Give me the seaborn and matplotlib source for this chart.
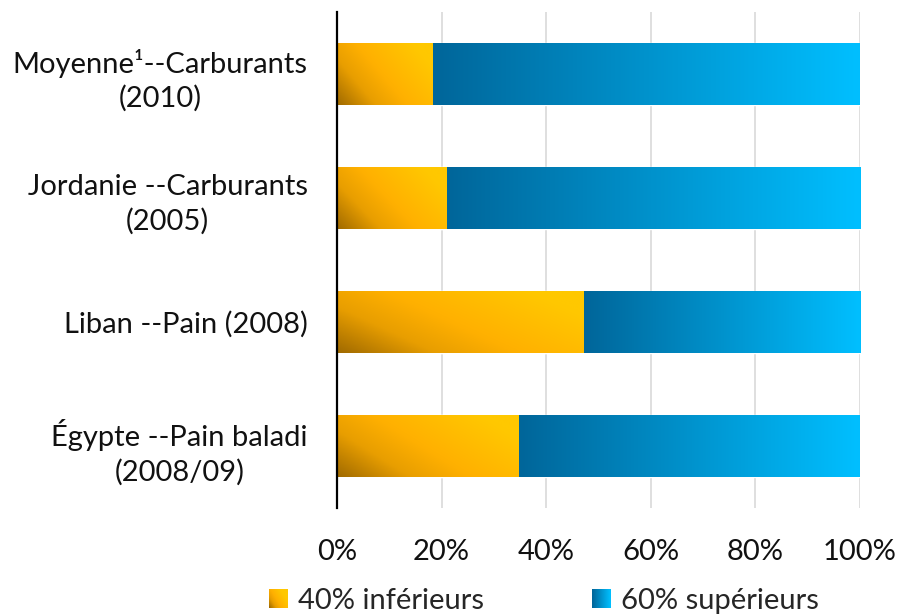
import numpy as np
import pandas as pd
import matplotlib
matplotlib.use("Agg")
import matplotlib.pyplot as plt
import seaborn as sns
from matplotlib.colors import LinearSegmentedColormap
from matplotlib.legend_handler import HandlerBase
from matplotlib.image import BboxImage
from matplotlib.transforms import Bbox, TransformedBbox
from matplotlib.patches import Patch

# data
categories = [
    "Moyenne\u00b9--Carburants\n(2010)",
    "Jordanie --Carburants\n(2005)",
    "Liban --Pain (2008)",
    "\u00c9gypte --Pain baladi\n(2008/09)",
]
bottom40 = [18.4, 21.0, 47.2, 34.8]
top60 = [100 - v for v in bottom40]
series_names = ["40% inf\u00e9rieurs", "60% sup\u00e9rieurs"]
xticks = [0, 20, 40, 60, 80, 100]

df = pd.DataFrame({"cat": categories, "low": bottom40, "high": top60})
df["total"] = df["low"] + df["high"]

sns.set_theme(style="white")
plt.rcParams["font.family"] = ["Lato", "DejaVu Sans"]
FS = 21

orange_cmap = LinearSegmentedColormap.from_list(
    "orng", [(0, "#A06A00"), (0.3, "#E89E00"), (0.55, "#FFB000"), (1, "#FFC800")])
blue_cmap = LinearSegmentedColormap.from_list(
    "blu", [(0, "#00669A"), (1, "#00BFFF")])

fig = plt.figure(figsize=(8.99, 6.14), dpi=100)
ax = fig.add_axes([337 / 899, (614 - 508) / 614, 523 / 899, 496 / 614])

sns.barplot(data=df, x="total", y="cat", color="#0090D0", width=0.5, ax=ax)
sns.barplot(data=df, x="low", y="cat", color="#FFB000", width=0.5, ax=ax)

n = len(categories)
high_patches = ax.patches[:n]
low_patches = ax.patches[n:]


def orange_grad():
    u = np.linspace(0, 1, 200)[None, :]
    v = np.linspace(1, 0, 60)[:, None]  # top row first (bright), bottom dark
    return np.clip(u * 0.75 + v * 0.4, 0, 1)


for p in low_patches:
    x0, y0 = p.get_x(), p.get_y()
    w, h = p.get_width(), p.get_height()
    im = ax.imshow(orange_grad(), cmap=orange_cmap, vmin=0, vmax=1, aspect="auto",
                   extent=[x0, x0 + w, y0 + h, y0], interpolation="bicubic",
                   zorder=3)
    im.set_clip_path(p)
    p.set_facecolor("none")

for p, lp in zip(high_patches, low_patches):
    x0 = lp.get_x() + lp.get_width()
    y0 = p.get_y()
    w, h = p.get_width() - lp.get_width(), p.get_height()
    arr = np.tile(np.linspace(0, 1, 200), (10, 1))
    ax.imshow(arr, cmap=blue_cmap, vmin=0, vmax=1, aspect="auto",
              extent=[x0, x0 + w, y0 + h, y0], interpolation="bicubic",
              zorder=3)
    p.set_facecolor("none")

ax.set_xlim(0, 100)
ax.set_ylim(n - 0.5, -0.5)
ax.set_xticks(xticks)
ax.set_xticklabels([f"{t}%" for t in xticks], fontsize=FS, color="#111111")
ax.set_yticks(range(n))
ax.set_yticklabels(categories, fontsize=FS, color="#111111",
                   multialignment="center", linespacing=1.35)
ax.tick_params(axis="y", length=0, pad=21)
ax.tick_params(axis="x", length=0, pad=22)
ax.set_xlabel("")
ax.set_ylabel("")
ax.xaxis.grid(True, color="#D9D9D9", linewidth=1.2)
ax.set_axisbelow(True)
for s in ["top", "right", "bottom"]:
    ax.spines[s].set_visible(False)
ax.spines["left"].set_color("black")
ax.spines["left"].set_linewidth(1.6)
ax.spines["left"].set_zorder(5)


class GradHandler(HandlerBase):
    def __init__(self, arr, cmap):
        super().__init__()
        self.arr = arr
        self.cmap = cmap

    def create_artists(self, legend, orig_handle, xdescent, ydescent,
                       width, height, fontsize, trans):
        side = min(width, height)
        bb = Bbox.from_bounds(-xdescent + (width - side), -ydescent, side, side)
        im = BboxImage(TransformedBbox(bb, trans), cmap=self.cmap,
                       norm=plt.Normalize(0, 1), interpolation="bicubic")
        im.set_data(self.arr)
        return [im]


h1 = Patch(label=series_names[0])
h2 = Patch(label=series_names[1])
uu = np.linspace(0, 1, 20)[None, :]
vv = np.linspace(1, 0, 20)[:, None]
leg_or = np.clip(uu * 0.8 + vv * 0.5, 0, 1)
leg_bl = np.tile(np.linspace(0, 1, 20), (20, 1))
fig.legend(handles=[h1, h2], loc="center", bbox_to_anchor=(544 / 899, 1 - 601 / 614),
           ncol=2, frameon=False, fontsize=FS, handlelength=0.65, handleheight=0.65,
           handletextpad=0.35, columnspacing=3.7,
           handler_map={h1: GradHandler(leg_or, orange_cmap),
                        h2: GradHandler(leg_bl, blue_cmap)})

fig.savefig("out.png", dpi=100)
